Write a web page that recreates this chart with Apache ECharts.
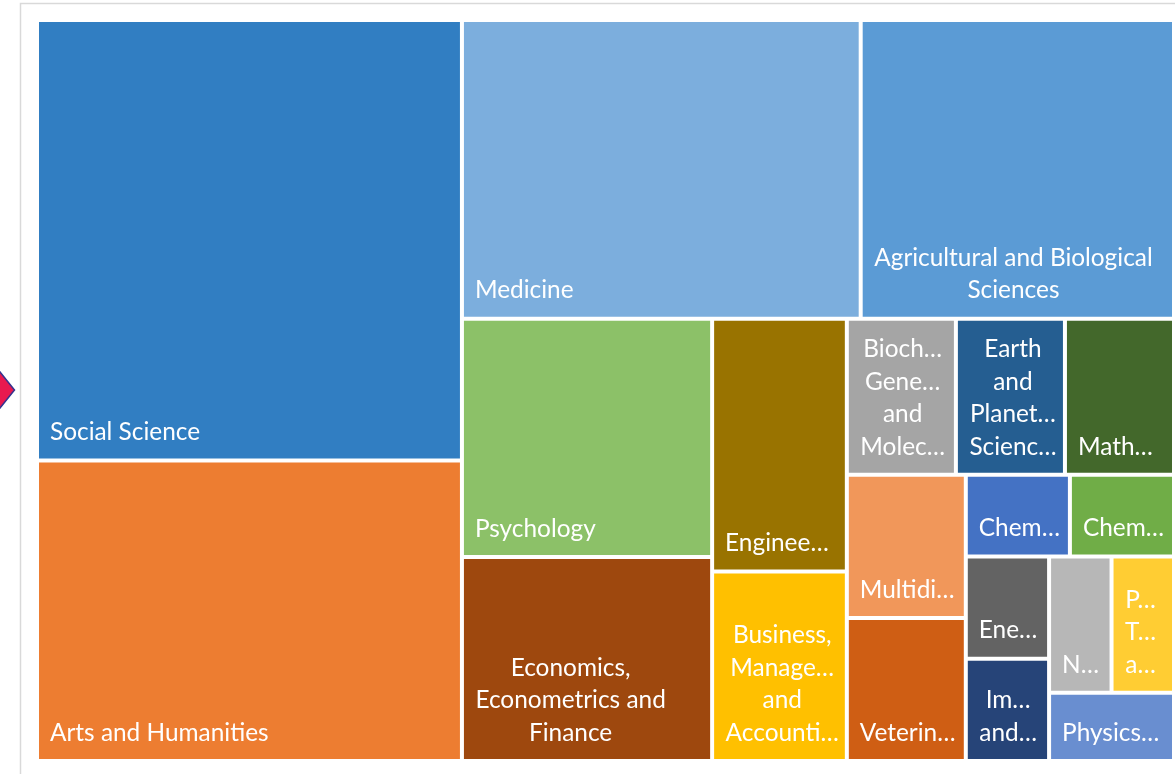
<!DOCTYPE html>
<html>
<head>
<meta charset="utf-8">
<script src="https://cdn.jsdelivr.net/npm/echarts@6/dist/echarts.min.js"></script>
<style>
html,body{margin:0;padding:0;background:#ffffff;}
#chart{width:1175px;height:774px;}
</style>
</head>
<body>
<div id="chart"></div>
<script>
// ---- data ----
const categories = [
  'Social Science',
  'Arts and Humanities',
  'Medicine',
  'Agricultural and Biological Sciences',
  'Psychology',
  'Economics, Econometrics and Finance',
  'Engineering',
  'Business, Management and Accounting',
  'Biochemistry, Genetics and Molecular Biology',
  'Earth and Planetary Sciences',
  'Mathematics',
  'Multidisciplinary',
  'Veterinary',
  'Chemical Engineering',
  'Chemistry',
  'Energy',
  'Immunology and Microbiology',
  'Neuroscience',
  'Pharmacology, Toxicology and Pharmaceutics',
  'Physics and Astronomy'
];
const values = [22, 15, 14, 11, 7, 6, 4, 3, 2, 2, 2, 2, 2, 1, 1, 1, 1, 1, 1, 1];
// labels as displayed in the cells (wrapped / truncated)
const labels = [
  'Social Science',
  'Arts and Humanities',
  'Medicine',
  'Agricultural and Biological\nSciences',
  'Psychology',
  'Economics,\nEconometrics and\nFinance',
  'Enginee\u2026',
  'Business,\nManage\u2026\nand\nAccounti\u2026',
  'Bioch\u2026\nGene\u2026\nand\nMolec\u2026',
  'Earth\nand\nPlanet\u2026\nScienc\u2026',
  'Math\u2026',
  'Multidi\u2026',
  'Veterin\u2026',
  'Chem\u2026',
  'Chem\u2026',
  'Ene\u2026',
  'Im\u2026\nand\u2026',
  'N\u2026',
  'P\u2026\nT\u2026\na\u2026',
  'Physics\u2026'
];
const colors = [
  '#317ec2', '#ed7d31', '#7caedd', '#5b9bd5', '#8cc168', '#9e480e', '#997300',
  '#ffc000', '#a5a5a5', '#255e91', '#43682b', '#f1975a', '#cf5e14', '#4472c4',
  '#70ad47', '#636363', '#264478', '#b7b7b7', '#ffcd33', '#698ed0'
];

const FONT_SIZE = 24.4;
const FONT_FAMILY = 'Lato';
const PAD_LEFT = 11;
const PAD_BOTTOM = 10;

// ---- build tree ----
const SMALL_START = 8; // the smaller subject areas are laid out together
const leaves = [];
function leaf(i) {
  const item = {
    name: categories[i],
    value: values[i],
    itemStyle: { color: colors[i] },
    label: { formatter: labels[i] }
  };
  if (labels[i].indexOf('\n') >= 0) {
    Object.assign(item.label, {
      position: ['50%', '100%'], align: 'center', verticalAlign: 'bottom',
      padding: [0, 2, PAD_BOTTOM, PAD_LEFT]
    });
  }
  leaves.push(item);
  return item;
}
const tree = [];
for (let i = 0; i < SMALL_START; i++) tree.push(leaf(i));
const rest = [];
let restSum = 0;
for (let i = SMALL_START; i < categories.length; i++) { rest.push(leaf(i)); restSum += values[i]; }
tree.push({ name: 'Other', value: restSum, children: rest, label: { show: false } });

const chart = echarts.init(document.getElementById('chart'), null, { renderer: 'canvas' });
const option = {
  animation: false,
  backgroundColor: '#ffffff',
  tooltip: { show: false },
  graphic: [
    { type: 'rect', silent: true, z: 0,
      shape: { x: 20.5, y: 3.5, width: 1200, height: 800 },
      style: { fill: 'none', stroke: '#d9d9d9', lineWidth: 1.5 } },
    { type: 'polygon', silent: true, z: 0,
      shape: { points: [[-8, 362], [14.5, 390], [-8, 418]] },
      style: { fill: '#e8194f', stroke: '#34338f', lineWidth: 1.5 } }
  ],
  series: [{
    type: 'treemap',
    left: 39, top: 22, width: 1133, height: 737,
    sort: false,
    squareRatio: 1.13,
    roam: false,
    nodeClick: false,
    visibleMin: 0,
    breadcrumb: { show: false },
    itemStyle: { gapWidth: 4, borderWidth: 0, borderColor: '#ffffff' },
    upperLabel: { show: false },
    label: {
      show: true,
      position: 'insideBottomLeft',
      padding: [0, 2, PAD_BOTTOM, PAD_LEFT],
      color: '#ffffff',
      fontFamily: FONT_FAMILY,
      fontSize: FONT_SIZE,
      lineHeight: 32.4,
      overflow: 'truncate'
    },
    emphasis: { disabled: true },
    data: tree
  }]
};
chart.setOption(option);

// Multi-line labels: lines are centred within a text block that starts at the
// cell's left padding (as in the original), so size the right padding from the
// cell width the library laid out.
try {
  const data = chart.getModel().getSeriesByIndex(0).getData();
  const widths = {};
  data.each(function (idx) {
    const lay = data.getItemLayout(idx);
    if (lay) widths[data.getName(idx)] = lay.width;
  });
  const ctx = document.createElement('canvas').getContext('2d');
  ctx.font = FONT_SIZE + 'px ' + FONT_FAMILY;
  leaves.forEach(function (item) {
    if (!item.label.position) return;
    const w = widths[item.name];
    if (!w) return;
    let maxW = 0;
    item.label.formatter.split('\n').forEach(function (ln) {
      maxW = Math.max(maxW, ctx.measureText(ln).width);
    });
    const padR = Math.max(2, w - PAD_LEFT - maxW - 1);
    item.label.padding = [0, padR, PAD_BOTTOM, PAD_LEFT];
  });
  chart.setOption({ series: [{ data: tree }] });
} catch (e) { /* keep first rendering */ }
</script>
</body>
</html>
